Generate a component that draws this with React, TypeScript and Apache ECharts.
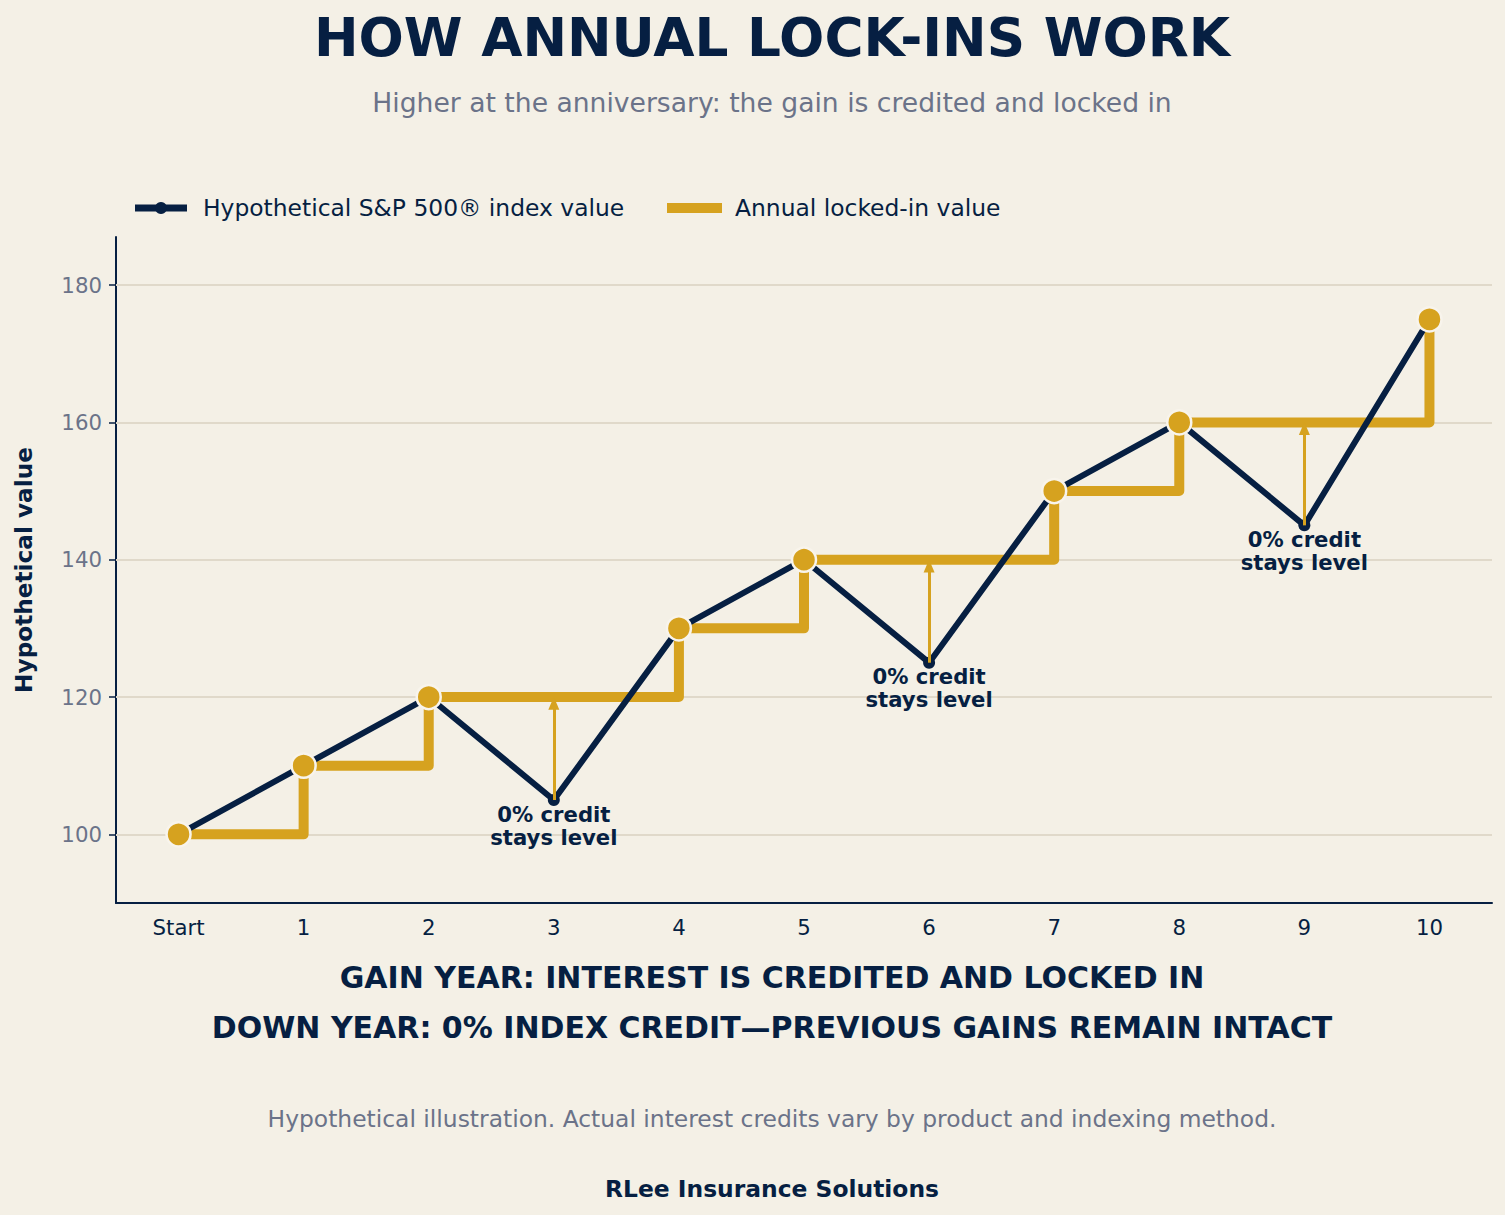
import React, { useEffect, useRef } from 'react';
import * as echarts from 'echarts';

const categories = ['Start', '1', '2', '3', '4', '5', '6', '7', '8', '9', '10'];
const indexValues = [100, 110, 120, 105, 130, 140, 125, 150, 160, 145, 175];
const lockedValues = [100, 110, 120, 120, 130, 140, 140, 150, 160, 160, 175];
const gridValues = [100, 120, 140, 160, 180];
const downNote = '0% credit\nstays level';

const NAVY = '#061f42';
const GOLD = '#d6a21f';
const BG = '#f4f0e6';
const GRAY = '#6b7389';
const GRID = '#e0d9ca';
const FONT = 'DejaVu Sans';

const App: React.FC = () => {
  const chartRef = useRef<HTMLDivElement>(null);

  useEffect(() => {
    document.body.style.margin = '0';
    if (!chartRef.current) return;
    const chart = echarts.init(chartRef.current, null, { renderer: 'svg' });

    // gain years: locked value moved up to the index value
    const gainPoints = categories
      .map((c, i) => [c, lockedValues[i]] as [string, number])
      .filter((_, i) => indexValues[i] === lockedValues[i]);
    const downYears = categories
      .map((c, i) => ({ c, i }))
      .filter(({ i }) => indexValues[i] < lockedValues[i]);

    const option: echarts.EChartsOption = {
      animation: false,
      backgroundColor: BG,
      textStyle: { fontFamily: FONT },
      grid: { left: 116, right: 13, top: 237, bottom: 312, containLabel: false },
      xAxis: {
        type: 'category',
        data: categories,
        boundaryGap: true,
        axisLine: { lineStyle: { color: NAVY, width: 2 } },
        axisTick: { show: false },
        axisLabel: { color: NAVY, fontSize: 21.3, margin: 14, fontFamily: FONT },
        splitLine: { show: false },
      },
      yAxis: {
        type: 'value',
        min: 90,
        max: 187,
        interval: 10,
        axisLine: { show: true, lineStyle: { color: NAVY, width: 2 } },
        axisTick: {
          show: true,
          length: 7,
          lineStyle: { color: NAVY, width: 1.5 },
          customValues: gridValues,
        },
        axisLabel: {
          color: GRAY,
          fontSize: 21.3,
          margin: 14,
          fontFamily: FONT,
          customValues: gridValues,
          formatter: (v: number) => (v % 20 === 0 ? String(v) : ''),
        },
        splitLine: { show: false },
      },
      series: [
        {
          name: 'Annual locked-in value',
          type: 'line',
          step: 'end',
          data: lockedValues,
          symbol: 'none',
          z: 2,
          lineStyle: { color: GOLD, width: 10, join: 'round', cap: 'round' },
          markLine: {
            silent: true,
            symbol: ['none', 'none'],
            label: { show: false },
            lineStyle: { color: GRID, width: 2, type: 'solid' },
            data: gridValues.map((v) => ({ yAxis: v })),
            z: 1,
          },
        },
        {
          name: 'Arrows',
          type: 'line',
          data: [],
          z: 3,
          markLine: {
            silent: true,
            symbol: ['none', 'triangle'],
            symbolSize: [11, 13],
            label: { show: false },
            lineStyle: { color: GOLD, width: 3, type: 'solid' },
            data: downYears.map(({ c, i }) => [
              { coord: [c, indexValues[i]] },
              { coord: [c, lockedValues[i] - 0.9] },
            ]) as any,
          },
        },
        {
          name: 'Hypothetical S&P 500® index value',
          type: 'line',
          data: indexValues,
          symbol: 'circle',
          symbolSize: 12,
          z: 4,
          itemStyle: { color: NAVY },
          lineStyle: { color: NAVY, width: 6, join: 'round' },
        },
        {
          name: 'Gain markers',
          type: 'scatter',
          data: gainPoints,
          symbolSize: 24,
          z: 5,
          itemStyle: { color: GOLD, borderColor: '#f8f4ec', borderWidth: 2.5, opacity: 1 },
        },
        {
          name: 'Down notes',
          type: 'scatter',
          data: downYears.map(({ c, i }) => [c, indexValues[i]]),
          symbolSize: 1,
          itemStyle: { color: 'rgba(0,0,0,0)', opacity: 1 },
          z: 6,
          label: {
            show: true,
            position: 'bottom',
            distance: 2,
            formatter: downNote,
            color: NAVY,
            fontSize: 21.2,
            fontWeight: 'bold',
            lineHeight: 23,
            align: 'center',
            fontFamily: FONT,
          },
        },
      ],
      graphic: [
        {
          type: 'text',
          x: 772,
          y: 38,
          style: {
            text: 'HOW ANNUAL LOCK-INS WORK',
            fill: NAVY,
            font: `bold 53.3px "${FONT}"`,
            align: 'center',
            verticalAlign: 'middle',
          },
        },
        {
          type: 'text',
          x: 772,
          y: 102,
          style: {
            text: 'Higher at the anniversary: the gain is credited and locked in',
            fill: GRAY,
            font: `26.6px "${FONT}"`,
            align: 'center',
            verticalAlign: 'middle',
          },
        },
        // legend
        {
          type: 'line',
          shape: { x1: 135, y1: 208, x2: 187, y2: 208 },
          style: { stroke: NAVY, lineWidth: 7 },
        },
        {
          type: 'circle',
          shape: { cx: 161, cy: 208, r: 6 },
          style: { fill: NAVY },
        },
        {
          type: 'text',
          x: 203,
          y: 208,
          style: {
            text: 'Hypothetical S&P 500® index value',
            fill: NAVY,
            font: `23.4px "${FONT}"`,
            align: 'left',
            verticalAlign: 'middle',
          },
        },
        {
          type: 'rect',
          shape: { x: 667, y: 203, width: 55, height: 10 },
          style: { fill: GOLD },
        },
        {
          type: 'text',
          x: 735,
          y: 208,
          style: {
            text: 'Annual locked-in value',
            fill: NAVY,
            font: `23.4px "${FONT}"`,
            align: 'left',
            verticalAlign: 'middle',
          },
        },
        {
          type: 'text',
          x: 23,
          y: 570,
          rotation: Math.PI / 2,
          style: {
            text: 'Hypothetical value',
            fill: NAVY,
            font: `bold 23.2px "${FONT}"`,
            align: 'center',
            verticalAlign: 'middle',
          },
        },
        {
          type: 'text',
          x: 772,
          y: 977,
          style: {
            text: 'GAIN YEAR: INTEREST IS CREDITED AND LOCKED IN',
            fill: NAVY,
            font: `bold 30px "${FONT}"`,
            align: 'center',
            verticalAlign: 'middle',
          },
        },
        {
          type: 'text',
          x: 772,
          y: 1027,
          style: {
            text: 'DOWN YEAR: 0% INDEX CREDIT\u2014PREVIOUS GAINS REMAIN INTACT',
            fill: NAVY,
            font: `bold 30px "${FONT}"`,
            align: 'center',
            verticalAlign: 'middle',
          },
        },
        {
          type: 'text',
          x: 772,
          y: 1119,
          style: {
            text: 'Hypothetical illustration. Actual interest credits vary by product and indexing method.',
            fill: GRAY,
            font: `23.4px "${FONT}"`,
            align: 'center',
            verticalAlign: 'middle',
          },
        },
        {
          type: 'text',
          x: 772,
          y: 1189,
          style: {
            text: 'RLee Insurance Solutions',
            fill: NAVY,
            font: `bold 23.4px "${FONT}"`,
            align: 'center',
            verticalAlign: 'middle',
          },
        },
      ],
    };

    chart.setOption(option);
    return () => {
      chart.dispose();
    };
  }, []);

  return <div ref={chartRef} style={{ width: 1505, height: 1215 }} />;
};

export default App;
